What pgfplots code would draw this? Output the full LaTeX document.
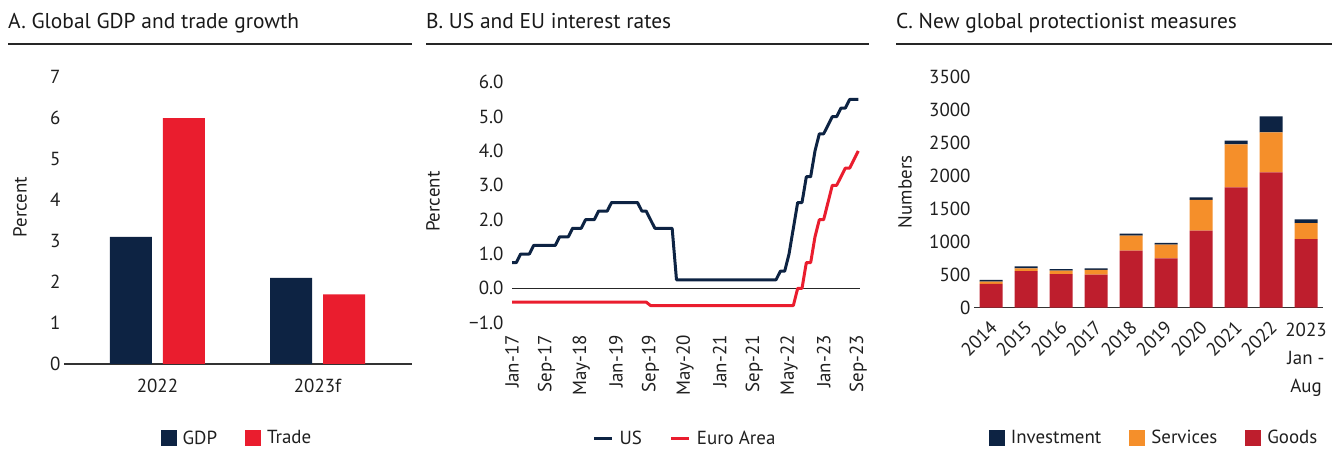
\documentclass[border=0pt]{standalone}
\usepackage{fontspec}
\setmainfont{PT Sans}
\usepackage{graphicx}
\usepackage{pgfplots}
\pgfplotsset{compat=1.18}

\definecolor{navy}{HTML}{0D2343}
\definecolor{redA}{HTML}{EA1D2E}
\definecolor{orangeC}{HTML}{F58F2A}
\definecolor{goods}{HTML}{BE1E2D}
\definecolor{axisgray}{HTML}{333333}

\newcommand\tf{\fontsize{19}{23}\selectfont}
\newcommand\titf{\fontsize{21.5}{26}\selectfont}

\pgfplotsset{
  common/.style={
    scale only axis,
    /pgf/number format/assume math mode=true,
    /pgf/number format/1000 sep={},
    tick label style={font=\tf, text=black!88},
    label style={font=\tf, text=black!88},
    major tick length=0pt,
    axis x line=bottom, axis y line=left,
    y axis line style={draw=none},
    x axis line style={axisgray, line width=1.3bp, -},
    legend style={font=\tf, draw=none, fill=none, legend columns=-1,
      text=black!88, anchor=center,
      /tikz/every odd column/.append style={column sep=4bp},
      /tikz/every even column/.append style={column sep=26bp}},
    legend cell align=left,
    clip=false,
  }
}

\pgfplotstableread{
x goods services invest
0 360 35 25
1 555 40 30
2 510 50 25
3 500 75 20
4 864 227 30
5 747 207 30
6 1167 465 40
7 1823 652 55
8 2050 605 243
9 1040 243 55
}\protab

\begin{document}
\begin{tikzpicture}
\path[use as bounding box] (0,0) rectangle (1338bp,451bp);

% titles and rules
\node[anchor=base west, inner sep=0, font=\titf, text=black!90] at (8bp,422bp) {A. Global GDP and trade growth};
\node[anchor=base west, inner sep=0, font=\titf, text=black!90] at (426bp,422bp) {B. US and EU interest rates};
\node[anchor=base west, inner sep=0, font=\titf, text=black!90] at (896bp,422bp) {C. New global protectionist measures};
\draw[black!85, line width=1.3bp] (8bp,407bp) -- (412bp,407bp);
\draw[black!85, line width=1.3bp] (426bp,407bp) -- (869bp,407bp);
\draw[black!85, line width=1.3bp] (896bp,407bp) -- (1332bp,407bp);

% Panel A
\begin{axis}[common,
  at={(64bp,87bp)}, anchor=south west,
  width=348bp, height=287bp,
  ybar=11bp, bar width=42bp,
  xmin=-0.584, xmax=1.59, ymin=0, ymax=7,
  ytick={0,1,...,7},
  xtick={0,1}, xticklabels={2022,2023f},
  x tick label style={yshift=-12bp},
  ylabel={Percent},
  ylabel style={at={(axis description cs:-0.126,0.547)}, anchor=center},
  legend style={at={(0.497,-0.258)}},
  legend image code/.code={\fill[#1] (0bp,-8bp) rectangle (16bp,8bp);},
]
\addplot[fill=navy, draw=none] coordinates {(0,3.1) (1,2.1)};
\addplot[fill=redA, draw=none] coordinates {(0,6.0) (1,1.7)};
\legend{GDP,Trade}
\end{axis}

% Panel B
\begin{axis}[common,
  at={(512bp,128.3bp)}, anchor=south west,
  width=348bp, height=240.4bp,
  xmin=0, xmax=80.4, ymin=-1, ymax=6,
  x axis line style={draw=none},
  ytick={-1,0,1,2,3,4,5,6},
  yticklabels={−1.0,0.0,1.0,2.0,3.0,4.0,5.0,6.0},
  y tick label style={xshift=-5bp},
  xtick={0,8,...,80},
  xticklabels={\rotatebox{90}{Jan-17},\rotatebox{90}{Sep-17},\rotatebox{90}{May-18},\rotatebox{90}{Jan-19},\rotatebox{90}{Sep-19},\rotatebox{90}{May-20},\rotatebox{90}{Jan-21},\rotatebox{90}{Sep-21},\rotatebox{90}{May-22},\rotatebox{90}{Jan-23},\rotatebox{90}{Sep-23}},
  x tick label style={anchor=north, yshift=-9bp},
  ylabel={Percent},
  ylabel style={at={(axis description cs:-0.227,0.503)}, anchor=center},
  legend style={at={(0.497,-0.48)}},
  legend image code/.code={\draw[#1] (0bp,0bp) -- (18bp,0bp);},
]
\addplot[black!85, line width=0.9bp, forget plot] coordinates {(0,0) (80.4,0)};
\addplot[navy, line width=3bp, line join=round] coordinates {
(0,0.75) (1,0.75) (2,1.0) (3,1.0) (4,1.0) (5,1.25) (6,1.25) (7,1.25) (8,1.25) (9,1.25)
(10,1.25) (11,1.5) (12,1.5) (13,1.5) (14,1.75) (15,1.75) (16,1.75) (17,2.0) (18,2.0) (19,2.0)
(20,2.25) (21,2.25) (22,2.25) (23,2.5) (24,2.5) (25,2.5) (26,2.5) (27,2.5) (28,2.5) (29,2.5)
(30,2.25) (31,2.25) (32,2.0) (33,1.75) (34,1.75) (35,1.75) (36,1.75) (37,1.75) (38,0.25) (39,0.25)
(40,0.25) (41,0.25) (42,0.25) (43,0.25) (44,0.25) (45,0.25) (46,0.25) (47,0.25) (48,0.25) (49,0.25)
(50,0.25) (51,0.25) (52,0.25) (53,0.25) (54,0.25) (55,0.25) (56,0.25) (57,0.25) (58,0.25) (59,0.25)
(60,0.25) (61,0.25) (62,0.5) (63,0.5) (64,1.0) (65,1.75) (66,2.5) (67,2.5) (68,3.25) (69,3.25)
(70,4.0) (71,4.5) (72,4.5) (73,4.75) (74,5.0) (75,5.0) (76,5.25) (77,5.25) (78,5.5) (79,5.5)
(80,5.5)};
\addplot[redA, line width=3bp, line join=round] coordinates {
(0,-0.4) (1,-0.4) (2,-0.4) (3,-0.4) (4,-0.4) (5,-0.4) (6,-0.4) (7,-0.4) (8,-0.4) (9,-0.4)
(10,-0.4) (11,-0.4) (12,-0.4) (13,-0.4) (14,-0.4) (15,-0.4) (16,-0.4) (17,-0.4) (18,-0.4) (19,-0.4)
(20,-0.4) (21,-0.4) (22,-0.4) (23,-0.4) (24,-0.4) (25,-0.4) (26,-0.4) (27,-0.4) (28,-0.4) (29,-0.4)
(30,-0.4) (31,-0.4) (32,-0.5) (33,-0.5) (34,-0.5) (35,-0.5) (36,-0.5) (37,-0.5) (38,-0.5) (39,-0.5)
(40,-0.5) (41,-0.5) (42,-0.5) (43,-0.5) (44,-0.5) (45,-0.5) (46,-0.5) (47,-0.5) (48,-0.5) (49,-0.5)
(50,-0.5) (51,-0.5) (52,-0.5) (53,-0.5) (54,-0.5) (55,-0.5) (56,-0.5) (57,-0.5) (58,-0.5) (59,-0.5)
(60,-0.5) (61,-0.5) (62,-0.5) (63,-0.5) (64,-0.5) (65,-0.5) (66,0.0) (67,0.0) (68,0.75) (69,0.75)
(70,1.5) (71,2.0) (72,2.0) (73,2.5) (74,3.0) (75,3.0) (76,3.25) (77,3.5) (78,3.5) (79,3.75)
(80,4.0)};
\legend{US,Euro Area}
\end{axis}

% Panel C
\begin{axis}[common,
  at={(974bp,143.3bp)}, anchor=south west,
  width=349bp, height=231bp,
  ybar stacked, bar width=23bp,
  xmin=-0.486, xmax=9.486, ymin=0, ymax=3500,
  ytick={0,500,...,3500},
  xtick={0,...,8},
  xticklabels={\rotatebox{45}{2014},\rotatebox{45}{2015},\rotatebox{45}{2016},\rotatebox{45}{2017},\rotatebox{45}{2018},\rotatebox{45}{2019},\rotatebox{45}{2020},\rotatebox{45}{2021},\rotatebox{45}{2022}},
  x tick label style={anchor=north, xshift=-12bp, yshift=-8bp},
  extra x ticks={9},
  extra x tick labels={{2023\\Jan -\\Aug}},
  extra x tick style={tick label style={xshift=12bp, yshift=-4bp, align=center, font=\fontsize{19}{28}\selectfont}},
  ylabel={Numbers},
  ylabel style={at={(axis description cs:-0.198,0.502)}, anchor=center},
  legend style={at={(0.516,-0.564)}},
  reverse legend,
  legend image code/.code={\fill[#1] (0bp,-8bp) rectangle (16bp,8bp);},
]
\addplot[fill=goods, draw=none] table[x=x, y=goods] {\protab};
\addplot[fill=orangeC, draw=none] table[x=x, y=services] {\protab};
\addplot[fill=navy, draw=none] table[x=x, y=invest] {\protab};
\legend{Goods,Services,Investment}
\end{axis}
\end{tikzpicture}
\end{document}
